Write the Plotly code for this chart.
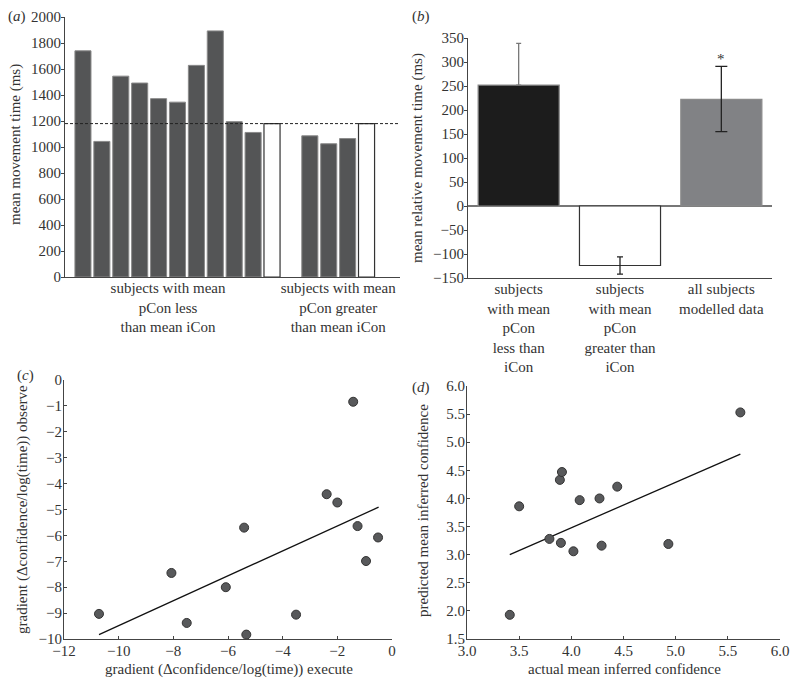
import plotly.graph_objects as go

# ---------------- data ----------------
# (a) mean movement time per subject (ms)
a_group_less = [1740, 1043, 1545, 1492, 1372, 1345, 1628, 1893, 1195, 1112]
a_group_greater = [1086, 1025, 1065]
a_mean_icon = 1180
a_group_labels = ["subjects with mean<br>pCon less<br>than mean iCon",
                  "subjects with mean<br>pCon greater<br>than mean iCon"]

# (b) mean relative movement time (ms)
b_categories = ["subjects<br>with mean<br>pCon<br>less than<br>iCon",
                "subjects<br>with mean<br>pCon<br>greater than<br>iCon",
                "all subjects<br>modelled data"]
b_values = [252, -124, 222]
b_err_plus = [87, 18, 69]
b_err_minus = [0, 18, 67]

# (c) gradients
c_execute = [-10.72, -8.07, -7.51, -6.08, -5.41, -5.33, -3.51, -2.39, -2.0, -1.42, -1.26, -0.95, -0.51]
c_observe = [-9.03, -7.45, -9.38, -8.0, -5.70, -9.83, -9.06, -4.41, -4.73, -0.84, -5.64, -6.99, -6.08]
c_fit_x = [-10.72, -0.49]
c_fit_y = [-9.83, -4.91]

# (d) inferred confidence
d_actual = [3.41, 3.50, 3.79, 3.89, 3.91, 3.90, 4.02, 4.08, 4.27, 4.29, 4.44, 4.93, 5.62]
d_predicted = [1.93, 3.86, 3.28, 4.33, 4.47, 3.21, 3.06, 3.97, 4.00, 3.16, 4.21, 3.19, 5.53]
d_fit_x = [3.41, 5.62]
d_fit_y = [3.00, 4.79]

# ---------------- layout helpers ----------------
# the page body has an 8px margin; the figure is sized to fill the rest of the window
OFF = 8
W, H = 798 - OFF, 679 - OFF
def dx(p0, p1):
    return [(p0 - OFF) / W, (p1 - OFF) / W]
def dy(top, bottom):
    return [1 - (bottom - OFF) / H, 1 - (top - OFF) / H]
def px_x(p):
    return (p - OFF) / W
def px_y(p):
    return 1 - (p - OFF) / H

FONT = "Liberation Serif"
FS = 15
TXT = "#333333"
AX = "#444444"

fig = go.Figure()

# ---------- panel (a) ----------
less_x = list(range(1, len(a_group_less) + 1))
mean1_x = len(a_group_less) + 1
greater_x = list(range(mean1_x + 2, mean1_x + 2 + len(a_group_greater)))
mean2_x = greater_x[-1] + 1

fig.add_trace(go.Bar(x=less_x + greater_x, y=a_group_less + a_group_greater, width=0.85,
                     marker=dict(color="#545556", line=dict(color="#8a8a8a", width=1)),
                     xaxis="x", yaxis="y", showlegend=False))
fig.add_trace(go.Bar(x=[mean1_x, mean2_x], y=[a_mean_icon, a_mean_icon], width=0.85,
                     marker=dict(color="white", line=dict(color="#333333", width=1.2)),
                     xaxis="x", yaxis="y", showlegend=False))
fig.add_shape(type="line", xref="x domain", yref="y", x0=0, x1=1, y0=a_mean_icon, y1=a_mean_icon,
              line=dict(color="#222222", width=1, dash="3px,2px"))

# ---------- panel (b) ----------
b_fill = ["#1c1c1c", "white", "#818285"]
b_line = ["#8a8a8a", "#333333", "#8a8a8a"]
b_errcol = ["#777777", "#222222", "#222222"]
b_capw = [2.5, 3, 6]
for i in range(3):
    fig.add_trace(go.Bar(x=[i], y=[b_values[i]], width=0.8,
                         marker=dict(color=b_fill[i], line=dict(color=b_line[i], width=1.2)),
                         error_y=dict(type="data", symmetric=False, array=[b_err_plus[i]],
                                      arrayminus=[b_err_minus[i]], color=b_errcol[i],
                                      thickness=1.3, width=b_capw[i]),
                         xaxis="x2", yaxis="y2", showlegend=False))
fig.add_annotation(x=2, y=b_values[2] + b_err_plus[2], xref="x2", yref="y2", text="*",
                   showarrow=False, yanchor="bottom", yshift=-3,
                   font=dict(family=FONT, size=FS, color=TXT))

# ---------- panel (c) ----------
fig.add_trace(go.Scatter(x=c_fit_x, y=c_fit_y, mode="lines", line=dict(color="#111111", width=1.3),
                         xaxis="x3", yaxis="y3", showlegend=False))
fig.add_trace(go.Scatter(x=c_execute, y=c_observe, mode="markers",
                         marker=dict(size=9, color="#58595b", line=dict(color="#333333", width=1)),
                         xaxis="x3", yaxis="y3", showlegend=False))

# ---------- panel (d) ----------
fig.add_trace(go.Scatter(x=d_fit_x, y=d_fit_y, mode="lines", line=dict(color="#111111", width=1.3),
                         xaxis="x4", yaxis="y4", showlegend=False))
fig.add_trace(go.Scatter(x=d_actual, y=d_predicted, mode="markers",
                         marker=dict(size=9, color="#58595b", line=dict(color="#333333", width=1)),
                         xaxis="x4", yaxis="y4", showlegend=False))

tickfont = dict(family=FONT, size=FS, color=TXT)
common = dict(showgrid=False, zeroline=False, showline=True, linecolor=AX, linewidth=1.2,
              tickfont=tickfont, tickcolor=AX, ticklen=3, tickwidth=1, ticklabeloverflow="allow",
              automargin=False)

fig.update_layout(
    width=W, height=H, margin=dict(l=0, r=0, t=0, b=0, autoexpand=False),
    paper_bgcolor="white", plot_bgcolor="white", barmode="overlay",
    font=dict(family=FONT, color=TXT),
    xaxis=dict(domain=dx(65, 400), range=[0.05, 17.77], tickvals=[5.5, 14.5],
               ticktext=a_group_labels, ticks="", anchor="y", ticklabelstandoff=-3, **common),
    yaxis=dict(domain=dy(17, 277), range=[0, 2000], dtick=200, ticks="outside", anchor="x",
               ticklabelstandoff=-3, **common),
    xaxis2=dict(domain=dx(468, 772), range=[-0.5, 2.5], tickvals=[0, 1, 2],
                ticktext=b_categories, ticks="", anchor="y2", ticklabelstandoff=-3, **common),
    yaxis2=dict(domain=dy(38, 278), range=[-150, 350], dtick=50, ticks="outside", anchor="x2",
                ticklabelstandoff=-3,
                **{**common, "zeroline": True, "zerolinecolor": "#777777", "zerolinewidth": 1.5}),
    xaxis3=dict(domain=dx(64, 392), range=[-12, 0], dtick=2, ticks="inside", anchor="y3",
                ticklabelstandoff=-2, **common),
    yaxis3=dict(domain=dy(380, 639), range=[-10, 0], dtick=1, ticks="inside", anchor="x3",
                ticklabelstandoff=-2, **common),
    xaxis4=dict(domain=dx(467, 780), range=[3, 6], dtick=0.5, tickformat=".1f", ticks="inside",
                anchor="y4", ticklabelstandoff=-2, **common),
    yaxis4=dict(domain=dy(386, 639), range=[1.5, 6], dtick=0.5, tickformat=".1f", ticks="inside",
                anchor="x4", ticklabelstandoff=-2, **common),
)

# axis titles (placed as text annotations), positions in window pixels
axis_titles = [
    ("mean movement time (ms)", 16, 145, -90),
    ("mean relative movement time (ms)", 417, 158, -90),
    ("gradient (Δconfidence/log(time)) observe", 23, 510, -90),
    ("gradient (Δconfidence/log(time)) execute", 229, 669, 0),
    ("predicted mean inferred confidence", 423, 511, -90),
    ("actual mean inferred confidence", 624, 669, 0),
]
for txt, px, py, ang in axis_titles:
    fig.add_annotation(xref="paper", yref="paper", x=px_x(px), y=px_y(py), text=txt, showarrow=False,
                       textangle=ang, xanchor="center", yanchor="middle",
                       font=dict(family=FONT, size=FS, color=TXT))

for txt, px, py in [("(<i>a</i>)", 17, 17), ("(<i>b</i>)", 421, 17), ("(<i>c</i>)", 25, 375), ("(<i>d</i>)", 421, 387)]:
    fig.add_annotation(xref="paper", yref="paper", x=px_x(px), y=px_y(py), text=txt, showarrow=False,
                       xanchor="center", yanchor="middle", font=dict(family=FONT, size=FS, color=TXT))

fig.write_html("out.html")
